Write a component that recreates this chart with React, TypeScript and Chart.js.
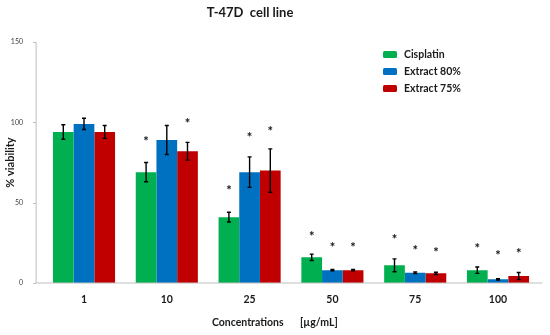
import React, { useEffect, useRef } from "react";
import { Chart, registerables } from "chart.js";

Chart.register(...registerables);

const categories = ["1", "10", "25", "50", "75", "100"];
const seriesNames = ["Cisplatin", "Extract 80%", "Extract 75%"];
const cisplatin = [94, 69, 41, 16, 11, 8];
const cisplatinErr = [4.5, 6, 3, 2, 4, 2];
const cisplatinStar = [null, 90, 59, 30.5, 29, 23];
const extract80 = [99, 89, 69, 8, 6.4, 2.3];
const extract80Err = [3.5, 9, 9.5, 0.4, 0.5, 0.4];
const extract80Star = [null, null, 92, 24, 22, 18.5];
const extract75 = [94, 82, 70, 8, 6, 4.3];
const extract75Err = [4, 5.5, 13.5, 0.4, 0.7, 2.2];
const extract75Star = [null, 101, 96, 23.5, 20.5, 20];
const yTicks = [0, 50, 100, 150];

const colors = ["#00B050", "#0070C0", "#C00000"];
const FONT = "Lato, 'Open Sans', sans-serif";

const errors = [cisplatinErr, extract80Err, extract75Err];
const stars = [cisplatinStar, extract80Star, extract75Star];

const customPlugin = {
  id: "custom",
  beforeDatasetsDraw(chart: any) {
    const { ctx, chartArea, scales } = chart;
    const y = scales.y;
    const axisX = chartArea.left - 6.5;
    ctx.save();
    ctx.strokeStyle = "#BFBFBF";
    ctx.lineWidth = 1;
    ctx.beginPath();
    ctx.moveTo(axisX, y.getPixelForValue(150));
    ctx.lineTo(axisX, y.getPixelForValue(0));
    yTicks.forEach((t) => {
      const py = Math.round(y.getPixelForValue(t)) + 0.5;
      ctx.moveTo(axisX - 3, py);
      ctx.lineTo(axisX, py);
    });
    ctx.stroke();
    ctx.restore();
  },
  afterDatasetsDraw(chart: any) {
    const { ctx, chartArea, scales } = chart;
    const y = scales.y;
    ctx.save();
    ctx.strokeStyle = "#BFBFBF";
    ctx.lineWidth = 1.2;
    ctx.beginPath();
    const by = y.getPixelForValue(0);
    ctx.moveTo(chartArea.left - 6.5, by);
    ctx.lineTo(chartArea.right + 3, by);
    ctx.stroke();

    chart.data.datasets.forEach((ds: any, di: number) => {
      const meta = chart.getDatasetMeta(di);
      meta.data.forEach((bar: any, i: number) => {
        const v = ds.data[i];
        const e = errors[di][i];
        const top = y.getPixelForValue(v + e);
        const bot = y.getPixelForValue(v - e);
        ctx.strokeStyle = "#000";
        ctx.lineWidth = 1.4;
        ctx.beginPath();
        ctx.moveTo(bar.x, top);
        ctx.lineTo(bar.x, bot);
        ctx.moveTo(bar.x - 2, top);
        ctx.lineTo(bar.x + 2, top);
        ctx.moveTo(bar.x - 2, bot);
        ctx.lineTo(bar.x + 2, bot);
        ctx.stroke();
        const s = stars[di][i];
        if (s !== null && s !== undefined) {
          ctx.fillStyle = "#111";
          ctx.font = `bold 13px ${FONT}`;
          ctx.textAlign = "center";
          ctx.textBaseline = "middle";
          ctx.fillText("*", bar.x, y.getPixelForValue(s) + 3);
        }
      });
    });
    ctx.restore();
  },
  afterDraw(chart: any) {
    const { ctx, chartArea } = chart;
    ctx.save();
    ctx.fillStyle = "#1a1a1a";
    ctx.textBaseline = "middle";
    ctx.font = `bold 13px ${FONT}`;
    ctx.textAlign = "center";
    ctx.fillText("T-47D  cell line", 250, 12.5);
    ctx.font = `bold 10.5px ${FONT}`;
    ctx.textAlign = "left";
    ctx.fillText("Concentrations", 212, 322.5);
    ctx.fillText("[µg/mL]", 300, 322.5);
    ctx.save();
    ctx.translate(10, (chartArea.top + chartArea.bottom) / 2);
    ctx.rotate(-Math.PI / 2);
    ctx.textAlign = "center";
    ctx.font = `bold 11px ${FONT}`;
    ctx.fillText("% viability", 0, 0);
    ctx.restore();
    const rows = [54.5, 71.5, 88.5];
    seriesNames.forEach((name, i) => {
      ctx.fillStyle = colors[i];
      ctx.beginPath();
      ctx.roundRect(383, rows[i] - 3.5, 14, 7, 1.5);
      ctx.fill();
      ctx.fillStyle = "#1a1a1a";
      ctx.font = `bold 10.5px ${FONT}`;
      ctx.textAlign = "left";
      ctx.fillText(name, 404, rows[i]);
    });
    ctx.restore();
  },
};

export default function App() {
  const ref = useRef<HTMLCanvasElement>(null);
  useEffect(() => {
    document.body.style.margin = "0";
    const canvas = ref.current!;
    const chart = new Chart(canvas, {
      type: "bar",
      data: {
        labels: categories,
        datasets: [
          { label: seriesNames[0], data: cisplatin, backgroundColor: colors[0] },
          { label: seriesNames[1], data: extract80, backgroundColor: colors[1] },
          { label: seriesNames[2], data: extract75, backgroundColor: colors[2] },
        ],
      },
      options: {
        animation: false,
        responsive: false,
        devicePixelRatio: 1,
        layout: { padding: { top: 42, left: 0, right: 10.6, bottom: 0 } },
        datasets: { bar: { categoryPercentage: 0.75, barPercentage: 1 } },
        plugins: {
          legend: { display: false },
          title: { display: false },
          tooltip: { enabled: false },
        },
        scales: {
          x: {
            grid: { display: false },
            border: { display: false },
            ticks: {
              color: "#1a1a1a",
              font: { family: FONT, size: 10.5, weight: "bold" },
              padding: 2,
              maxRotation: 0,
            },
            afterFit(scale: any) {
              scale.height = 52;
            },
          },
          y: {
            min: 0,
            max: 150,
            grid: { display: false },
            border: { display: false },
            ticks: {
              stepSize: 50,
              color: "#404040",
              font: { family: FONT, size: 7 },
              padding: 11.6,
            },
            afterFit(scale: any) {
              scale.width = 42.6;
            },
          },
        },
      },
      plugins: [customPlugin],
    });
    return () => chart.destroy();
  }, []);
  return <canvas ref={ref} width={550} height={335} style={{ display: "block" }} />;
}
